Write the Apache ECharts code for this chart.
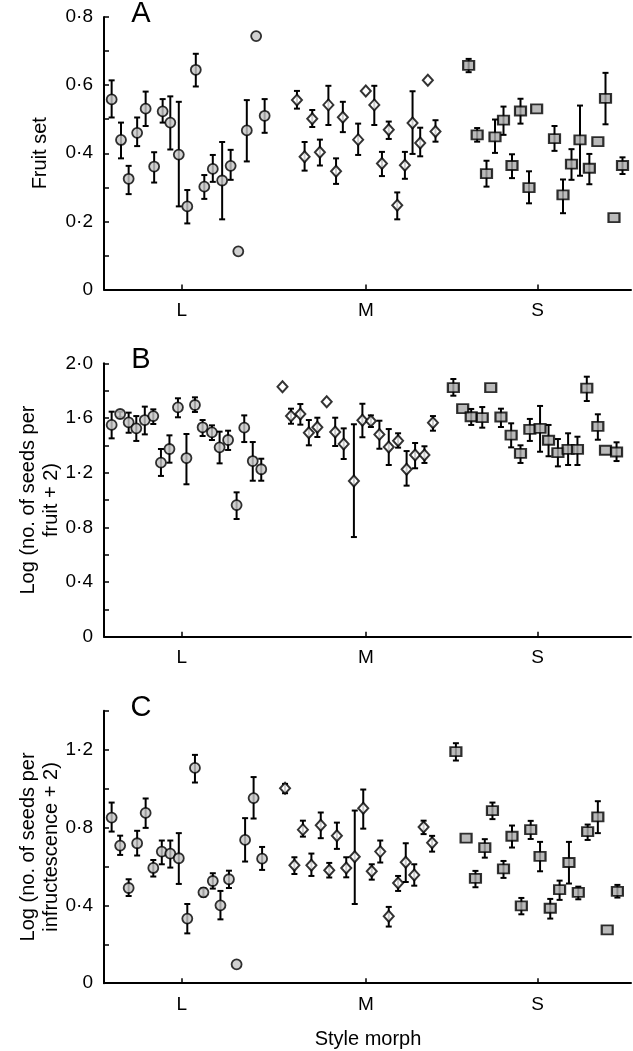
<!DOCTYPE html>
<html><head><meta charset="utf-8">
<script src="https://cdn.jsdelivr.net/npm/echarts@6/dist/echarts.min.js"></script>
<style>html,body{margin:0;padding:0;background:#fff}#c{width:633px;height:1051px}</style>
</head><body><div id="c"></div>
<script>
// Category tick positions on the x axis
const morphs = ['L', 'M', 'S'];
const morphTickPos = [9.14, 30.8, 51.0];

// ---------- Panel A: Fruit set ----------
const aLx = [0.9,2.0,2.9,3.9,4.9,5.9,6.9,7.8,8.8,9.8,10.8,11.8,12.8,13.9,14.9,15.8,16.8,17.9,18.9];
const aLy = [0.558,0.439,0.325,0.460,0.531,0.361,0.523,0.490,0.396,0.244,0.645,0.302,0.354,0.320,0.363,0.112,0.467,0.744,0.510];
const aLlo = [0.505,0.385,0.280,0.421,0.480,0.314,0.490,0.411,0.244,0.194,0.596,0.266,0.316,0.206,0.322,null,0.376,null,0.460];
const aLhi = [0.614,0.490,0.363,0.505,0.581,0.403,0.559,0.567,0.551,0.292,0.692,0.336,0.395,0.433,0.410,null,0.556,null,0.559];

const aMx = [22.7,23.6,24.5,25.4,26.4,27.3,28.1,29.9,30.8,31.8,32.7,33.5,34.5,35.4,36.3,37.2,38.1,39.0];
const aMy = [0.556,0.390,0.501,0.403,0.542,0.347,0.506,0.440,0.583,0.542,0.370,0.469,0.247,0.365,0.489,0.430,0.614,0.464];
const aMlo = [0.531,0.349,0.477,0.364,0.483,0.310,0.462,0.395,null,0.483,0.333,0.442,0.206,0.325,0.398,0.391,null,0.434];
const aMhi = [0.583,0.433,0.527,0.440,0.598,0.385,0.551,0.487,null,0.598,0.404,0.493,0.285,0.404,0.582,0.475,null,0.497];

const aSx = [42.9,43.9,45.0,46.0,47.0,48.0,49.0,50.0,50.9,53.0,54.0,55.0,56.0,57.1,58.1,59.0,60.0,61.0];
const aSy = [0.658,0.454,0.340,0.448,0.497,0.364,0.524,0.299,0.530,0.443,0.278,0.368,0.439,0.356,0.434,0.561,0.211,0.364];
const aSlo = [0.638,0.434,0.302,0.401,0.454,0.327,0.487,0.253,null,0.407,0.224,0.322,0.334,0.309,null,0.485,null,0.339];
const aShi = [0.677,0.474,0.378,0.499,0.537,0.397,0.560,0.347,null,0.480,0.323,0.412,0.540,0.398,null,0.636,null,0.388];

// ---------- Panel B: Log (no. of seeds per fruit + 2) ----------
const bLx = [0.9,1.9,2.9,3.8,4.8,5.8,6.7,7.7,8.7,9.7,10.7,11.6,12.7,13.6,14.6,15.6,16.5,17.5,18.5];
const bLy = [1.549,1.629,1.568,1.524,1.585,1.614,1.273,1.373,1.678,1.307,1.695,1.532,1.495,1.385,1.439,0.963,1.529,1.285,1.225];
const bLlo = [1.451,1.605,1.492,1.432,1.480,1.556,1.176,1.273,1.605,1.115,1.644,1.468,1.439,1.268,1.366,0.861,1.424,1.141,1.141];
const bLhi = [1.646,1.646,1.639,1.614,1.683,1.663,1.373,1.473,1.744,1.483,1.751,1.585,1.546,1.500,1.507,1.056,1.619,1.424,1.302];

const bMx = [21.0,22.0,23.1,24.1,25.1,26.2,27.2,28.2,29.4,30.4,31.4,32.4,33.5,34.6,35.6,36.6,37.7,38.7];
const bMy = [1.829,1.614,1.629,1.492,1.532,1.719,1.497,1.410,1.139,1.583,1.578,1.480,1.388,1.434,1.225,1.329,1.329,1.565];
const bMlo = [null,1.558,1.551,1.400,1.461,null,1.395,1.300,0.729,1.459,1.534,1.375,1.256,1.383,1.105,1.232,1.271,1.507];
const bMhi = [null,1.668,1.702,1.585,1.602,null,1.602,1.524,1.554,1.704,1.619,1.580,1.519,1.488,1.358,1.417,1.393,1.614];

const bSx = [41.1,42.2,43.2,44.5,45.5,46.7,47.9,49.0,50.1,51.3,52.3,53.4,54.6,55.7,56.8,58.1,59.0,60.3];
const bSy = [1.822,1.668,1.609,1.602,1.822,1.607,1.475,1.341,1.517,1.524,1.437,1.346,1.371,1.371,1.819,1.539,1.364,1.351];
const bSlo = [1.763,null,1.549,1.529,null,1.534,1.385,1.271,1.432,1.353,1.320,1.246,1.256,1.256,1.724,1.441,null,1.285];
const bShi = [1.885,null,1.666,1.680,null,1.668,1.561,1.400,1.593,1.688,1.549,1.446,1.488,1.463,1.902,1.627,null,1.422];

// ---------- Panel C: Log (no. of seeds per infructescence + 2) ----------
const cLx = [0.9,1.9,2.9,3.9,4.9,5.8,6.8,7.8,8.8,9.8,10.7,11.7,12.8,13.7,14.7,15.6,16.6,17.6,18.6];
const cLy = [0.851,0.707,0.489,0.719,0.875,0.592,0.676,0.666,0.642,0.332,1.106,0.467,0.525,0.400,0.534,0.097,0.736,0.951,0.640];
const cLlo = [0.779,0.659,0.448,0.656,0.798,0.548,0.611,0.594,0.510,0.256,1.031,0.445,0.486,0.328,0.489,null,0.625,0.846,0.582];
const cLhi = [0.928,0.758,0.534,0.783,0.949,0.633,0.733,0.733,0.771,0.407,1.173,0.488,0.565,0.474,0.578,null,0.848,1.059,0.700];

const cMx = [21.3,22.4,23.4,24.4,25.5,26.5,27.4,28.5,29.5,30.5,31.5,32.5,33.5,34.6,35.5,36.5,37.6,38.6];
const cMy = [1.002,0.606,0.789,0.606,0.812,0.580,0.757,0.592,0.650,0.899,0.575,0.676,0.344,0.515,0.621,0.556,0.803,0.722];
const cMlo = [0.976,0.561,0.753,0.551,0.745,0.543,0.690,0.544,0.407,0.794,0.532,0.620,0.291,0.474,0.520,0.501,0.766,0.676];
const cMhi = [1.024,0.647,0.835,0.666,0.877,0.618,0.825,0.647,0.887,0.995,0.611,0.733,0.392,0.551,0.719,0.611,0.835,0.757];

const cSx = [41.4,42.6,43.7,44.8,45.7,47.0,48.0,49.1,50.2,51.3,52.5,53.6,54.7,55.8,56.9,58.1,59.2,60.4];
const cSy = [1.190,0.745,0.539,0.697,0.887,0.587,0.755,0.397,0.789,0.652,0.385,0.481,0.620,0.467,0.779,0.855,0.274,0.472];
const cSlo = [1.144,null,0.493,0.645,0.843,0.541,0.697,0.354,0.741,0.575,0.332,0.428,0.512,0.431,0.736,0.771,null,0.440];
const cShi = [1.233,null,0.577,0.740,0.928,0.628,0.810,0.438,0.834,0.726,0.433,0.527,0.726,0.496,0.815,0.935,null,0.505];

const yNames = ['Fruit set', 'Log (no. of seeds per\nfruit + 2)', 'Log (no. of seeds per\ninfructescence + 2)'];
const panelLetters = ['A', 'B', 'C'];
const xName = 'Style morph';

// ---------- build ----------
const FONT = '"Liberation Sans", Arial, Helvetica, sans-serif';
const grids = [
  {left: 104, top: 17, width: 527, height: 272.5},
  {left: 104, top: 363.3, width: 527, height: 273.4},
  {left: 104, top: 710.7, width: 527, height: 272.5}
];
const yCfg = [
  {max: 0.8, interval: 0.1, every: 0.2},
  {max: 2.0, interval: 0.2, every: 0.4},
  {max: 1.4, interval: 0.2, every: 0.4}
];
function fmtY(v, every) {
  const k = Math.round(v / every * 1000) / 1000;
  if (Math.abs(k - Math.round(k)) > 1e-6) return '';
  if (Math.abs(v) < 1e-9) return '0';
  return v.toFixed(1).replace('.', '\u00B7');
}
const panels = [
  [[aLx, aLy, aLlo, aLhi], [aMx, aMy, aMlo, aMhi], [aSx, aSy, aSlo, aShi]],
  [[bLx, bLy, bLlo, bLhi], [bMx, bMy, bMlo, bMhi], [bSx, bSy, bSlo, bShi]],
  [[cLx, cLy, cLlo, cLhi], [cMx, cMy, cMlo, cMhi], [cSx, cSy, cSlo, cShi]]
];
const markerStyle = [
  {symbol: 'circle', symbolSize: 10, itemStyle: {color: '#c6c6c6', borderColor: '#000', borderWidth: 1.8}},
  {symbol: 'diamond', symbolSize: [10, 11], itemStyle: {color: '#ffffff', borderColor: '#000', borderWidth: 2}},
  {symbol: 'rect', symbolSize: [11, 9], itemStyle: {color: '#a9a9a9', borderColor: '#000', borderWidth: 2}}
];
function errRender(params, api) {
  const x = api.value(0), lo = api.value(1), hi = api.value(2);
  const p1 = api.coord([x, hi]), p2 = api.coord([x, lo]);
  const w = 3;
  const st = {stroke: '#000', lineWidth: 2};
  return {type: 'group', children: [
    {type: 'line', shape: {x1: p1[0], y1: p1[1], x2: p2[0], y2: p2[1]}, style: st},
    {type: 'line', shape: {x1: p1[0] - w, y1: p1[1], x2: p1[0] + w, y2: p1[1]}, style: st},
    {type: 'line', shape: {x1: p2[0] - w, y1: p2[1], x2: p2[0] + w, y2: p2[1]}, style: st}
  ]};
}
const xAxes = [], yAxes = [], series = [], graphics = [];
grids.forEach((g, i) => {
  xAxes.push({
    type: 'value', gridIndex: i, min: 0, max: 62,
    axisLine: {show: true, onZero: false, lineStyle: {color: '#000', width: 2}},
    axisTick: {show: true, inside: true, length: 5, customValues: morphTickPos, lineStyle: {color: '#000', width: 1.5}},
    axisLabel: {customValues: morphTickPos, margin: 12, color: '#000', fontSize: 19, fontFamily: FONT,
      formatter: v => { const k = morphTickPos.findIndex(p => Math.abs(p - v) < 0.01); return k >= 0 ? morphs[k] : ''; }},
    splitLine: {show: false}
  });
  yAxes.push({
    type: 'value', gridIndex: i, min: 0, max: yCfg[i].max, interval: yCfg[i].interval,
    axisLine: {show: true, lineStyle: {color: '#000', width: 2}},
    axisTick: {show: true, inside: true, length: 5, lineStyle: {color: '#000', width: 1.5}},
    axisLabel: {margin: 11, color: '#000', fontSize: 19, fontFamily: FONT, showMaxLabel: true, showMinLabel: true,
      formatter: v => fmtY(v, yCfg[i].every)},
    splitLine: {show: false}
  });
  panels[i].forEach((grp, m) => {
    const [xs, ys, los, his] = grp;
    const errData = [];
    xs.forEach((x, k) => { if (los[k] != null && his[k] != null) errData.push([x, los[k], his[k]]); });
    series.push({
      type: 'custom', xAxisIndex: i, yAxisIndex: i, renderItem: errRender,
      encode: {x: 0, y: [1, 2]}, data: errData, z: 2, silent: true
    });
    series.push(Object.assign({
      type: 'scatter', xAxisIndex: i, yAxisIndex: i, z: 3, silent: true,
      data: xs.map((x, k) => [x, ys[k]])
    }, markerStyle[m]));
  });
  graphics.push({type: 'text', x: 141, y: g.top - 3, style: {text: panelLetters[i], fill: '#000',
    font: '29px ' + FONT, align: 'center', verticalAlign: 'middle'}});
  graphics.push({type: 'text', x: 40, y: g.top + g.height / 2, rotation: Math.PI / 2,
    style: {text: yNames[i], fill: '#000', font: '20px ' + FONT, align: 'center', verticalAlign: 'middle', lineHeight: 23}});
});
graphics.push({type: 'text', x: 368, y: 1039, style: {text: xName, fill: '#000', font: '20px ' + FONT,
  align: 'center', verticalAlign: 'middle'}});

const chart = echarts.init(document.getElementById('c'), null, {renderer: 'canvas'});
chart.setOption({
  animation: false,
  backgroundColor: '#fff',
  grid: grids.map(g => Object.assign({outerBoundsMode: 'none', containLabel: false}, g)),
  xAxis: xAxes, yAxis: yAxes, series: series, graphic: graphics
});
</script></body></html>
